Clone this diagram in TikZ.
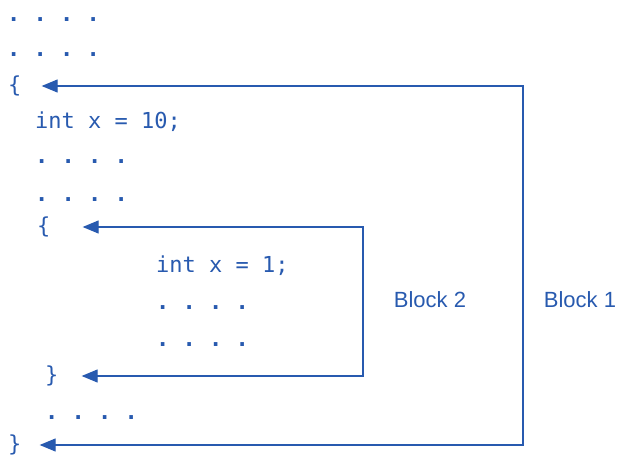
\documentclass[tikz,border=0pt]{standalone}
\usepackage{fontspec}
\setmonofont{DejaVu Sans Mono}
\setsansfont{Liberation Sans}
\usetikzlibrary{arrows.meta}
\definecolor{codeblue}{RGB}{40,90,175}
\begin{document}
\begin{tikzpicture}[x=1pt,y=-1pt,
    code/.style={anchor=west,inner sep=0pt,text=codeblue,font=\ttfamily\fontsize{22}{26}\selectfont},
    dots/.style={code,font=\ttfamily\bfseries\fontsize{22}{26}\selectfont},
    blocktext/.style={text=codeblue,font=\sffamily\fontsize{22}{26}\selectfont},
    blockline/.style={draw=codeblue,line width=1.2pt,{Triangle[length=16pt,width=13pt]}-{Triangle[length=16pt,width=13pt]}}]
                \useasboundingbox (0,0) rectangle (618,457);

                \node[dots] (dots1) at (7,20) {. . . .};
                \node[dots] (dots2) at (7,55) {. . . .};
                \node[code] (open1) at (8,86) {\{};
                \node[code] (decl1) at (35,122) {int x = 10;};
                \node[dots] (dots3) at (35,162) {. . . .};
                \node[dots] (dots4) at (35,200) {. . . .};
                \node[code] (open2) at (37,227) {\{};
                \node[code] (decl2) at (156,266) {int x = 1;};
                \node[dots] (dots5) at (156,308) {. . . .};
                \node[dots] (dots6) at (156,345) {. . . .};
                \node[code] (close2) at (45,376) {\}};
                \node[dots] (dots7) at (45,418) {. . . .};
                \node[code] (close1) at (8,445) {\}};

                \node[blocktext] (block2) at (430,300) {Block 2};
                \node[blocktext] (block1) at (580,300) {Block 1};

                \coordinate (r1) at (523,86);
                \coordinate (r2) at (363,227);

                \draw[blockline] ([xshift=20pt]open1.east) -- (r1) |- ([xshift=18pt]close1.east);
                \draw[blockline] ([xshift=32pt]open2.east) -- (r2) |- ([xshift=23pt]close2.east);
            \end{tikzpicture}
\end{document}
